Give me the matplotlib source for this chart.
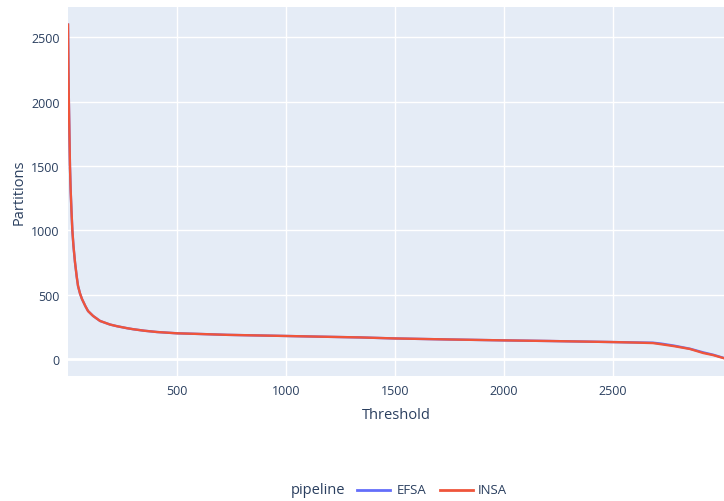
import matplotlib
matplotlib.use("Agg")
from matplotlib import pyplot as plt
from matplotlib.lines import Line2D

plt.rcParams['font.family'] = ['Open Sans', 'DejaVu Sans']

threshold = [0, 2, 4, 6, 9, 12, 16, 20, 25, 32, 40, 46, 55, 64, 80, 92, 115,
             147, 193, 225, 270, 298, 350, 408, 500, 600, 729, 850, 1005, 1150,
             1339, 1500, 1750, 2000, 2211, 2495, 2600, 2683, 2720, 2780, 2853,
             2913, 2960, 3005]
insa = [2600, 2250, 2000, 1800, 1500, 1320, 1150, 1000, 880, 754, 640, 568,
        510, 467, 410, 373, 335, 296, 268, 255, 240, 232, 220, 210, 200, 195,
        188, 184, 179, 174, 168, 160, 152, 145, 140, 132, 128, 124, 115, 100,
        78, 47, 30, 8]
efsa = [2600, 2250, 2000, 1800, 1500, 1320, 1150, 1000, 880, 754, 640, 568,
        510, 467, 410, 373, 335, 296, 268, 255, 240, 232, 220, 210, 200, 195,
        188, 184, 179, 174, 168, 160, 152, 145, 140, 132, 129, 127, 120, 104,
        80, 52, 33, 10]

text_color = '#2a3f5f'
blue = '#636EFA'
red = '#EF553B'

fig = plt.figure(figsize=(7.24, 5.02), dpi=100)
ax = fig.add_axes([68 / 724, 125 / 502, 656 / 724, 369 / 502])
ax.set_facecolor('#E5ECF6')

ax.plot(threshold, efsa, color=blue, lw=1.7, solid_joinstyle='round')
ax.plot(threshold, insa, color=red, lw=1.7, solid_joinstyle='round')

ax.set_xlim(0, 3009)
ax.set_ylim(-132, 2737)
ax.set_xticks([500, 1000, 1500, 2000, 2500])
ax.set_yticks([0, 500, 1000, 1500, 2000, 2500])
ax.grid(True, color='white', lw=1)
ax.axhline(0, color='white', lw=2, zorder=1)
ax.set_axisbelow(True)
for s in ax.spines.values():
    s.set_visible(False)
ax.tick_params(length=0, labelsize=9, labelcolor=text_color, pad=6)
ax.set_xlabel('Threshold', fontsize=10.5, color=text_color, labelpad=7)
ax.set_ylabel('Partitions', fontsize=10.5, color=text_color, labelpad=3)

# legend along the bottom, plotly style
ly = 1 - 491 / 502
fig.text(291 / 724, ly, 'pipeline', fontsize=10.5, color=text_color, va='center')
fig.add_artist(Line2D([357 / 724, 390 / 724], [ly, ly], color=blue, lw=2))
fig.text(397 / 724, ly, 'EFSA', fontsize=9.5, color=text_color, va='center')
fig.add_artist(Line2D([440 / 724, 473 / 724], [ly, ly], color=red, lw=2))
fig.text(478 / 724, ly, 'INSA', fontsize=9.5, color=text_color, va='center')

fig.savefig('out.png', dpi=100)
